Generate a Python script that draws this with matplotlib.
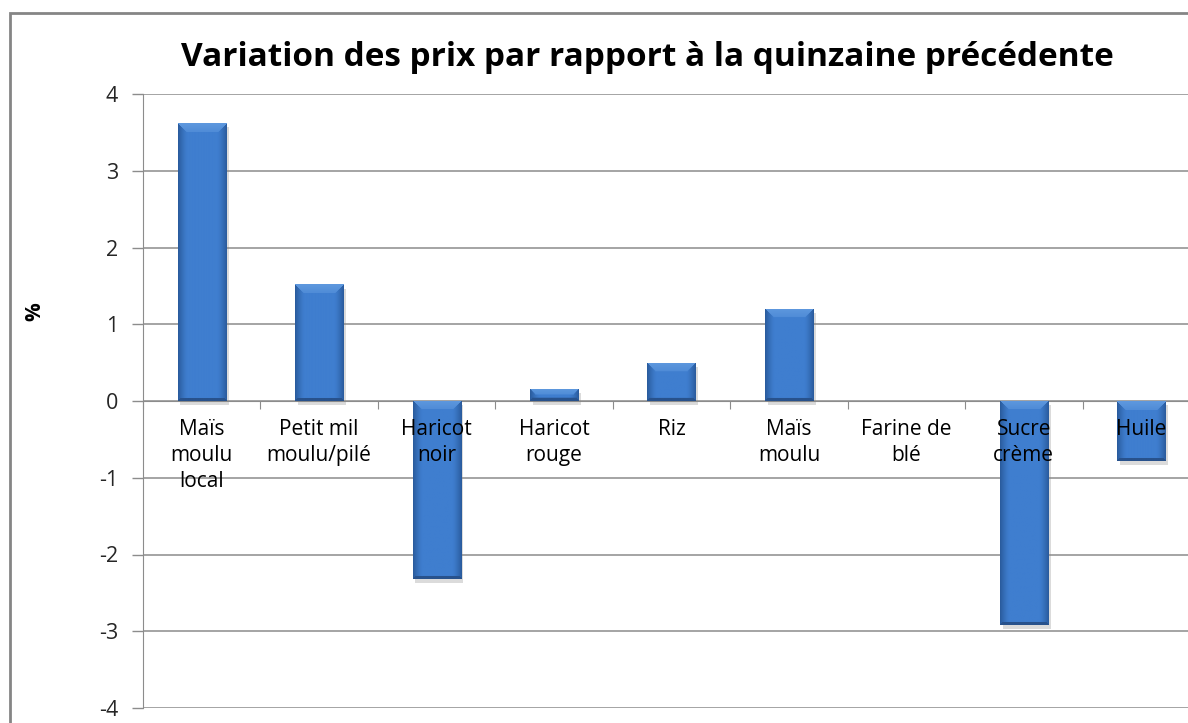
import numpy as np
import matplotlib
matplotlib.use("Agg")
import matplotlib.pyplot as plt
import matplotlib.patheffects as pe

# ----------------------------
# Data
# ----------------------------
produits = ["Maïs\nmoulu\nlocal", "Petit mil\nmoulu/pilé", "Haricot\nnoir",
            "Haricot\nrouge", "Riz", "Maïs\nmoulu", "Farine de\nblé",
            "Sucre\ncrème", "Huile"]
variation = [3.62, 1.52, -2.32, 0.16, 0.50, 1.20, 0.0, -2.92, -0.78]
y_ticks = [-4, -3, -2, -1, 0, 1, 2, 3, 4]

TITLE = "Variation des prix par rapport à la quinzaine précédente"
FONT = ["Open Sans", "DejaVu Sans"]

plt.rcParams['font.family'] = FONT

W, H = 1188, 723
fig = plt.figure(figsize=(W / 100, H / 100), dpi=100)
fig.patch.set_facecolor('white')

# axes run past the right edge, like the cropped original
ax = fig.add_axes([143 / W, 15 / H, 1057 / W, 614 / H])
ax.set_xlim(-0.5, len(produits) - 0.5)
ax.set_ylim(-4, 4)


def bar_shading(h, w, b=9):
    """Bevelled blue fill, one RGB pixel per screen pixel."""
    interior = np.array([0x3f, 0x7e, 0xcf]) / 255
    top = np.array([0x5e, 0x98, 0xde]) / 255
    side = np.array([0x2a, 0x5c, 0x9e]) / 255
    bottom = np.array([0x28, 0x52, 0x8c]) / 255
    ii, jj = np.mgrid[0:h, 0:w].astype(float)
    dl, dr = jj, w - 1 - jj
    dt, db = ii, h - 1 - ii
    dside = np.minimum(dl, dr)
    # smooth darkening towards the sides
    s = np.clip(1 - dside / b, 0, 1)[..., None] ** 1.4
    img = interior * (1 - s) + side * s
    # light bevel on top, mitred at the corners
    bt = min(b, h // 2)
    topsel = (dt < bt) & (dt <= dside)
    tw = (1 - dt / max(bt, 1))[..., None] * 0.5 + 0.5
    img = np.where(topsel[..., None], top * tw + interior * (1 - tw), img)
    # thin dark lip at the bottom
    botsel = (db < 3) & (db <= dside)
    img = np.where(botsel[..., None], bottom, img)
    return np.clip(img, 0, 1)


bars = ax.bar(range(len(produits)), variation, width=0.41,
              color='#3f7ecf', edgecolor='none', zorder=3)

for bar in bars:
    bar.set_path_effects([pe.SimplePatchShadow(offset=(2, -3), shadow_rgbFace='#888888', alpha=0.3),
                          pe.Normal()])
    x0, y0 = bar.get_x(), bar.get_y()
    x1, y1 = x0 + bar.get_width(), y0 + bar.get_height()
    if abs(y1 - y0) < 1e-9:
        continue
    ylo, yhi = min(y0, y1), max(y0, y1)
    p0 = ax.transData.transform((x0, ylo))
    p1 = ax.transData.transform((x1, yhi))
    wpx = max(int(round(p1[0] - p0[0])), 2)
    hpx = max(int(round(p1[1] - p0[1])), 2)
    im = ax.imshow(bar_shading(hpx, wpx), extent=(x0, x1, ylo, yhi),
                   aspect='auto', interpolation='bilinear', zorder=4)
    im.set_clip_path(bar)

ax.set_xlim(-0.5, len(produits) - 0.5)
ax.set_ylim(-4, 4)

# y axis
ax.set_yticks(y_ticks)
ax.set_yticklabels([str(v) for v in y_ticks])
ax.tick_params(axis='y', direction='out', length=8, width=1, color='#8c8c8c',
               labelsize=15.5, labelcolor='#262626', pad=10)
ax.yaxis.grid(True, color='#8c8c8c', linewidth=1.1, zorder=0)
ax.set_axisbelow(True)

# x axis sits on zero, ticks between categories, labels at centres
ax.spines['bottom'].set_position(('data', 0))
ax.spines['bottom'].set_color('#8c8c8c')
ax.spines['left'].set_color('#8c8c8c')
ax.spines['top'].set_visible(False)
ax.spines['right'].set_visible(False)
ax.set_xticks(np.arange(-0.5, len(produits), 1.0))
ax.set_xticklabels([])
ax.set_xticks(range(len(produits)), minor=True)
ax.set_xticklabels(produits, minor=True, fontsize=15, color='black', linespacing=1.3)
ax.tick_params(axis='x', which='major', direction='out', length=6, color='#8c8c8c')
ax.tick_params(axis='x', which='minor', length=0, pad=13)
ax.xaxis.set_zorder(6)

fig.text(647 / W, 1 - 58 / H, TITLE, ha='center', va='center',
         fontsize=24, fontweight='bold', color='black')
fig.text(35 / W, 1 - 312 / H, '%', rotation=90, ha='center', va='center',
         fontsize=15, fontweight='bold', color='black')

# chart frame, cut off at the right and bottom
frame = plt.Rectangle((9.5 / W, -0.1), 1.2, 1.1 - 13.5 / H, transform=fig.transFigure,
                      fill=False, edgecolor='#858585', linewidth=2)
fig.patches.append(frame)

fig.savefig("out.png", dpi=100)
